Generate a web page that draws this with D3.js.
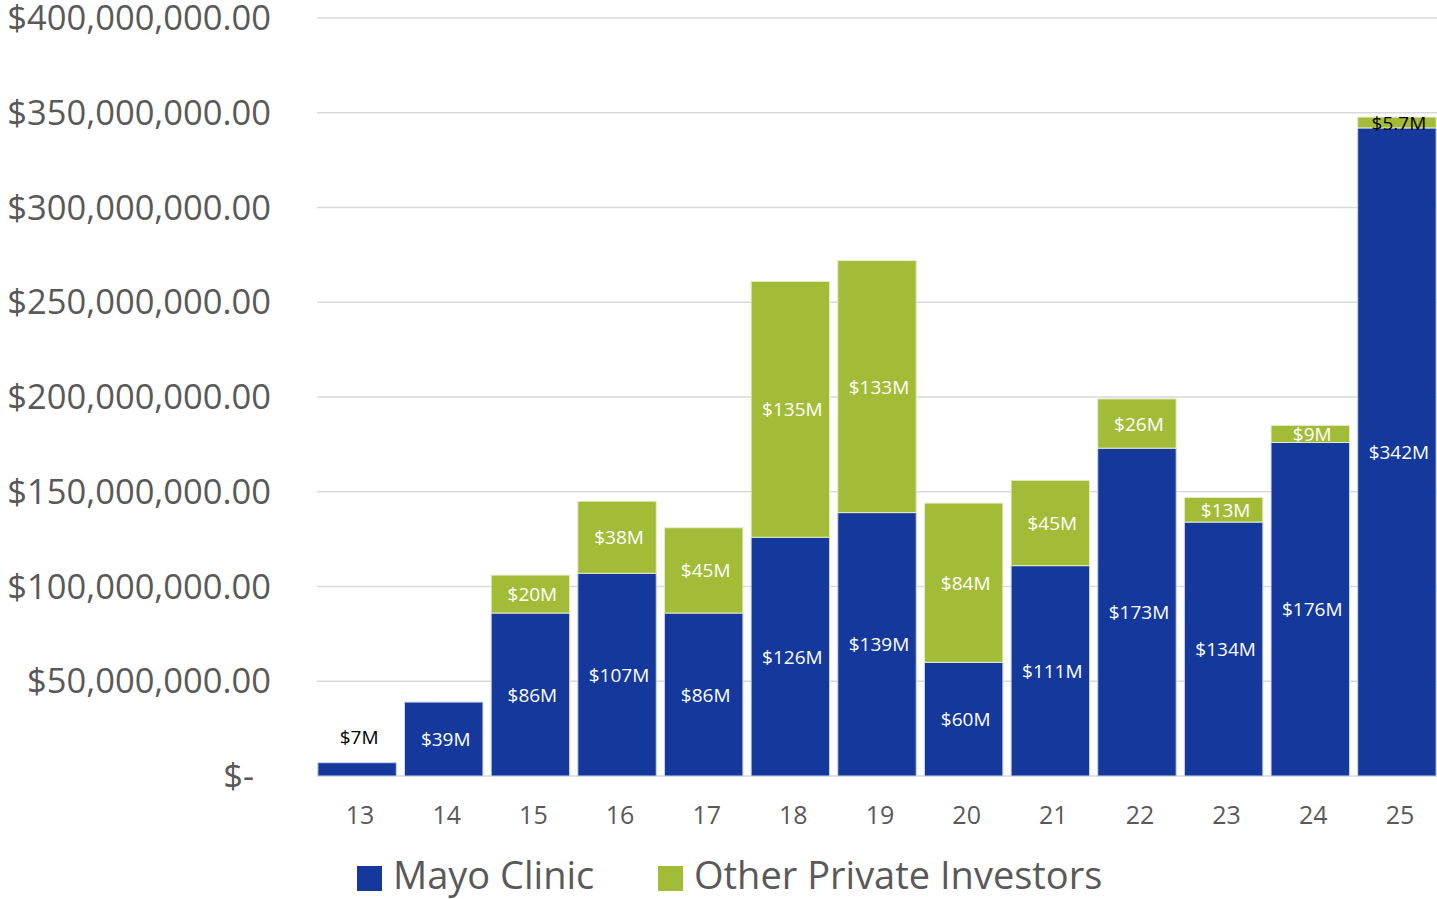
<!DOCTYPE html>
<html>
<head>
<meta charset="utf-8">
<script src="https://cdn.jsdelivr.net/npm/d3@7"></script>
<style>
  html, body { margin: 0; padding: 0; background: #fff; }
  svg { display: block; font-family: "Open Sans", "Noto Sans", sans-serif; }
</style>
</head>
<body>
<div id="container"></div>
<script>
const width = 1437, height = 899;
const font = "'Open Sans', 'Noto Sans', sans-serif";

// Data — fiscal year (last two digits), funding in $ millions
const years = ["13", "14", "15", "16", "17", "18", "19", "20", "21", "22", "23", "24", "25"];
const mayo = [7, 39, 86, 107, 86, 126, 139, 60, 111, 173, 134, 176, 342];
const other = [0, 0, 20, 38, 45, 135, 133, 84, 45, 26, 13, 9, 5.7];
const mayoLabels = ["$7M", "$39M", "$86M", "$107M", "$86M", "$126M", "$139M", "$60M", "$111M", "$173M", "$134M", "$176M", "$342M"];
const otherLabels = ["", "", "$20M", "$38M", "$45M", "$135M", "$133M", "$84M", "$45M", "$26M", "$13M", "$9M", "$5.7M"];
const yTicks = [0, 50, 100, 150, 200, 250, 300, 350, 400];
const seriesNames = ["Mayo Clinic", "Other Private Investors"];

const blue = "#14389c", green = "#a3bc37";
const margin = { top: 18, right: 0, bottom: 123, left: 317 };
const iw = width - margin.left - margin.right;
const ih = height - margin.top - margin.bottom;

const svg = d3.select("#container").append("svg")
  .attr("width", width).attr("height", height);
const g = svg.append("g").attr("transform", `translate(${margin.left},${margin.top})`);

const x = d3.scaleBand().domain(years).range([0, iw]).paddingInner(0.095).paddingOuter(0.01);
const y = d3.scaleLinear().domain([0, 400]).range([ih, 0]);

// Gridlines
g.selectAll("line.grid").data(yTicks).join("line")
  .attr("class", "grid")
  .attr("x1", 0).attr("x2", iw)
  .attr("y1", d => y(d)).attr("y2", d => y(d))
  .attr("stroke", "#d9d9d9").attr("stroke-width", 1.3);

// Y axis labels (accounting format, zero shown as "$-")
const yAxis = g.append("g").call(
  d3.axisLeft(y).tickValues(yTicks).tickSize(0).tickPadding(46)
    .tickFormat(d => d === 0 ? "$-" : "$" + d3.format(",.2f")(d * 1e6))
);
yAxis.attr("font-family", font);
yAxis.select(".domain").remove();
yAxis.selectAll("text")
  .attr("fill", "#595959")
  .style("font-size", "34.5px")
  .attr("dx", d => d === 0 ? -17 : 0)
  .attr("dy", "0.34em");

// Rows
const rows = years.map((yr, i) => ({ yr, mayo: mayo[i], other: other[i], ml: mayoLabels[i], ol: otherLabels[i] }));

// Mayo segments
g.selectAll("rect.mayo").data(rows).join("rect")
  .attr("class", "mayo")
  .attr("x", d => x(d.yr)).attr("width", x.bandwidth())
  .attr("y", d => y(d.mayo)).attr("height", d => y(0) - y(d.mayo))
  .attr("fill", blue).attr("stroke", "#c9d2ea").attr("stroke-width", 1);

// Other segments
g.selectAll("rect.other").data(rows.filter(d => d.other > 0)).join("rect")
  .attr("class", "other")
  .attr("x", d => x(d.yr)).attr("width", x.bandwidth())
  .attr("y", d => y(d.mayo + d.other)).attr("height", d => y(d.mayo) - y(d.mayo + d.other))
  .attr("fill", green).attr("stroke", "#e4ecc6").attr("stroke-width", 1);

// Mayo labels (centred; the tiny first bar gets its label above)
g.selectAll("text.ml").data(rows).join("text")
  .attr("class", "ml")
  .attr("x", d => x(d.yr) + x.bandwidth() / 2 + 2)
  .attr("y", d => d.mayo < 15 ? y(d.mayo) - 26 : y(d.mayo / 2))
  .attr("text-anchor", "middle")
  .attr("dominant-baseline", "central")
  .attr("fill", d => d.mayo < 15 ? "#000" : "#fff")
  .style("font-size", "19px")
  .text(d => d.ml);

// Other labels
g.selectAll("text.ol").data(rows.filter(d => d.other > 0)).join("text")
  .attr("class", "ol")
  .attr("x", d => x(d.yr) + x.bandwidth() / 2 + 2)
  .attr("y", d => y(d.mayo + d.other / 2))
  .attr("text-anchor", "middle")
  .attr("dominant-baseline", "central")
  .attr("fill", d => d.other < 8 ? "#000" : "#fff")
  .style("font-size", "19px")
  .text(d => d.ol);

// X axis labels
const xAxis = g.append("g").attr("transform", `translate(0,${ih})`)
  .call(d3.axisBottom(x).tickSize(0).tickPadding(30));
xAxis.attr("font-family", font);
xAxis.select(".domain").remove();
xAxis.selectAll("text").attr("fill", "#595959").attr("dx", 3).style("font-size", "25px");

// Legend
const legend = svg.append("g").attr("transform", "translate(357,866)");
const legX = [0, 301];
seriesNames.forEach((name, i) => {
  legend.append("rect")
    .attr("x", legX[i]).attr("y", 0).attr("width", 25).attr("height", 25)
    .attr("fill", i === 0 ? blue : green);
  legend.append("text")
    .attr("x", legX[i] + 36).attr("y", 23)
    .attr("fill", "#595959")
    .style("font-size", "38px")
    .text(name);
});
</script>
</body>
</html>
